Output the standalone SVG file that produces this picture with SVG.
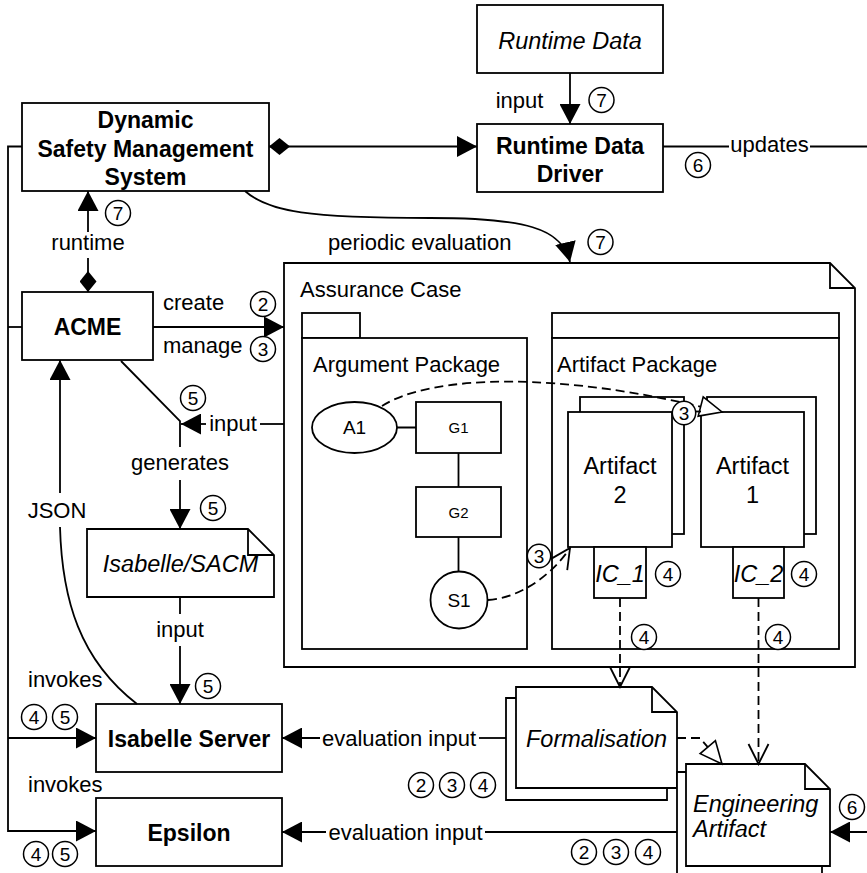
<svg xmlns="http://www.w3.org/2000/svg" width="867" height="873" viewBox="0 0 867 873">
<style>
.n{fill:#fff;stroke:#000;stroke-width:1.8}
.l{fill:none;stroke:#000;stroke-width:1.8}
.d{fill:none;stroke:#000;stroke-width:1.8;stroke-dasharray:9 5}
.b{font-family:"Liberation Sans",Arial,sans-serif;font-weight:bold;font-size:23px;text-anchor:middle}
.i{font-family:"Liberation Sans",Arial,sans-serif;font-style:italic;font-size:23.5px}
.r{font-family:"Liberation Sans",Arial,sans-serif;font-size:23.5px}
.t{font-family:"Liberation Sans",Arial,sans-serif;font-size:22px}
.s{font-family:"Liberation Sans",Arial,sans-serif;text-anchor:middle}
.m{text-anchor:middle}
.c{fill:#fff;stroke:#000;stroke-width:1.5}
.k{font-family:"Liberation Sans",Arial,sans-serif;font-size:19px;text-anchor:middle}
</style>
<defs>
<marker id="arr" viewBox="0 0 20 21" refX="20" refY="10.5" markerWidth="20" markerHeight="21" markerUnits="userSpaceOnUse" orient="auto"><path d="M0,0 L20,10.5 L0,21 z" fill="#000"/></marker>
<marker id="dia" viewBox="0 0 21 17" refX="0" refY="8.5" markerWidth="21" markerHeight="17" markerUnits="userSpaceOnUse" orient="auto"><path d="M0,8.5 L10.5,0 L21,8.5 L10.5,17 z" fill="#000"/></marker>
<marker id="vee" viewBox="-2 -2 24 24" refX="20" refY="10" markerWidth="24" markerHeight="24" markerUnits="userSpaceOnUse" orient="auto"><path d="M0,0 L20,10 L0,20" fill="none" stroke="#000" stroke-width="1.8"/></marker>
<marker id="tri" viewBox="-2 -2 26 24" refX="22" refY="10" markerWidth="26" markerHeight="24" markerUnits="userSpaceOnUse" orient="auto"><path d="M0,0 L22,10 L0,20 z" fill="#fff" stroke="#000" stroke-width="1.6"/></marker>
</defs>
<rect x="0" y="0" width="867" height="873" fill="#fff"/>

<g id="assurance-case">
<path class="n" d="M284,263 H830 L855,288 V667 H284 Z"/>
<path class="l" d="M830,263 V288 H855"/>
<text class="t" x="300" y="297">Assurance Case</text>
</g>

<g id="argument-package">
<rect class="n" x="302" y="313" width="58" height="25"/>
<rect class="n" x="302" y="338" width="225" height="311"/>
<text class="t" x="313" y="372">Argument Package</text>
</g>

<g id="artifact-package">
<rect class="n" x="552" y="313" width="287" height="25"/>
<rect class="n" x="552" y="338" width="287" height="311"/>
<text class="t" x="557" y="372">Artifact Package</text>
</g>

<g id="A1">
<ellipse class="n" cx="354.5" cy="427.5" rx="42.5" ry="25.5"/>
<text class="s" x="354.5" y="434" font-size="19">A1</text>
</g>
<g id="G1">
<rect class="n" x="416" y="402" width="85" height="51"/>
<text class="s" x="458.5" y="433" font-size="15">G1</text>
</g>
<g id="G2">
<rect class="n" x="416" y="487" width="85" height="50"/>
<text class="s" x="458.5" y="517.5" font-size="15">G2</text>
</g>
<g id="S1">
<circle class="n" cx="459" cy="600" r="28.5"/>
<text class="s" x="459" y="607" font-size="19">S1</text>
</g>

<g id="artifact2">
<rect class="n" x="580" y="397" width="104" height="137"/>
<rect class="n" x="568" y="412" width="104" height="135"/>
<text class="r m" x="620" y="474">Artifact</text>
<text class="r m" x="620" y="503">2</text>
</g>
<g id="artifact1">
<rect class="n" x="707" y="397" width="109" height="137"/>
<rect class="n" x="701" y="412" width="103" height="135"/>
<text class="r m" x="752.5" y="474">Artifact</text>
<text class="r m" x="752.5" y="503">1</text>
</g>
<g id="IC_1">
<rect class="n" x="594" y="547" width="52" height="51"/>
<text class="i m" x="620" y="582" font-size="20">IC_1</text>
</g>
<g id="IC_2">
<rect class="n" x="733" y="547" width="51" height="51"/>
<text class="i m" x="758.5" y="582" font-size="20">IC_2</text>
</g>

<g id="dsms">
<rect class="n" x="22" y="103" width="247" height="88"/>
<text class="b" x="145.5" y="128">Dynamic</text>
<text class="b" x="145.5" y="157">Safety Management</text>
<text class="b" x="145.5" y="185">System</text>
</g>

<g id="runtime-data">
<rect class="n" x="477" y="5" width="186" height="68"/>
<text class="i m" x="570" y="49">Runtime Data</text>
</g>

<g id="runtime-data-driver">
<rect class="n" x="477" y="124" width="186" height="68"/>
<text class="b" x="570" y="154">Runtime Data</text>
<text class="b" x="570" y="182">Driver</text>
</g>

<g id="acme">
<rect class="n" x="22" y="292" width="131" height="68"/>
<text class="b" x="87.5" y="335">ACME</text>
</g>

<g id="isabelle-sacm">
<path class="n" d="M87,529 H248 L274,555 V597 H87 Z"/>
<path class="l" d="M248,529 V555 H274"/>
<text class="i m" x="180.5" y="572">Isabelle/SACM</text>
</g>

<g id="isabelle-server">
<rect class="n" x="96" y="704" width="186" height="68"/>
<text class="b" x="189" y="747">Isabelle Server</text>
</g>

<g id="epsilon">
<rect class="n" x="96" y="798" width="186" height="68"/>
<text class="b" x="189" y="841">Epsilon</text>
</g>

<g id="formalisation">
<path class="n" d="M516,698 H506 V800 H667 V788"/>
<path class="n" d="M516,687 H652 L677,712 V788 H516 Z"/>
<path class="l" d="M652,687 V712 H677"/>
<text class="i m" x="596.5" y="747">Formalisation</text>
</g>

<g id="engineering-artifact">
<path class="n" d="M686,772 H677 V882 H822 V866"/>
<path class="n" d="M686,764 H805 L830,789 V866 H686 Z"/>
<path class="l" d="M805,764 V789 H830"/>
<text class="i" x="693" y="812">Engineering</text>
<text class="i" x="693" y="837">Artifact</text>
</g>

<g id="connectors">
<path class="l" d="M269,146.5 H477" marker-start="url(#dia)" marker-end="url(#arr)"/>
<path class="l" d="M570,73 V124" marker-end="url(#arr)"/>
<text class="t m" x="519.5" y="108">input</text>
<path class="l" d="M663,146.5 H729 M810,146.5 H867"/>
<text class="t m" x="769.5" y="152">updates</text>
<path class="l" d="M245,191 C268,212 310,218 430,218 C525,218 562,228 570,262" marker-end="url(#arr)"/>
<text class="t" x="328" y="250">periodic evaluation</text>
<path class="l" d="M88,292 V258" marker-start="url(#dia)"/>
<path class="l" d="M88,232 V191" marker-end="url(#arr)"/>
<text class="t m" x="88" y="250">runtime</text>
<path class="l" d="M22,146.5 H8 V831 H96" marker-end="url(#arr)"/>
<path class="l" d="M8,327 H22"/>
<path class="l" d="M8,738 H96" marker-end="url(#arr)"/>
<text class="t" x="28" y="687">invokes</text>
<text class="t" x="28" y="792">invokes</text>
<path class="l" d="M153,327 H284" marker-end="url(#arr)"/>
<text class="t" x="163" y="310">create</text>
<text class="t" x="163" y="353">manage</text>
<path class="l" d="M121,361 L180,421 V447"/>
<path class="l" d="M180,480 V529" marker-end="url(#arr)"/>
<text class="t m" x="180" y="470">generates</text>
<path class="l" d="M284,424 H260"/>
<path class="l" d="M206,424 H181" marker-end="url(#arr)"/>
<text class="t m" x="233" y="431">input</text>
<path class="l" d="M60,493 V360" marker-end="url(#arr)"/>
<path class="l" d="M60,527 C62,600 80,660 137,704"/>
<text class="t m" x="57" y="518">JSON</text>
<path class="l" d="M180,597 V614"/>
<path class="l" d="M180,646 V704" marker-end="url(#arr)"/>
<text class="t m" x="180" y="637">input</text>
<path class="l" d="M320,738 H282" marker-end="url(#arr)"/>
<path class="l" d="M506,738 H479"/>
<text class="t m" x="399" y="746">evaluation input</text>
<path class="l" d="M326,832 H282" marker-end="url(#arr)"/>
<path class="l" d="M677,832 H485"/>
<text class="t m" x="405.5" y="840">evaluation input</text>
<path class="l" d="M867,832 H830" marker-end="url(#arr)"/>
<path class="l" d="M397,427.5 H416 M458.5,453 V487 M458.5,537 V571.5"/>
<path class="d" d="M382,406 C430,375 560,370 722,412" marker-end="url(#tri)"/>
<path class="d" d="M488,600 C520,598 552,575 570,548" marker-end="url(#vee)"/>
<path class="l" d="M696,411.5 H701"/>
<path class="d" d="M620,598 V687" marker-end="url(#vee)"/>
<path class="d" d="M758.5,598 V764" marker-end="url(#vee)"/>
<path class="d" d="M677,738 H700 L722,764" marker-end="url(#tri)"/>
</g>

<g id="step-markers">
<circle class="c" cx="118" cy="213" r="12.5"/><text class="k" x="118" y="220">7</text>
<circle class="c" cx="601.5" cy="100" r="12.5"/><text class="k" x="601.5" y="107">7</text>
<circle class="c" cx="698" cy="165" r="12.5"/><text class="k" x="698" y="172">6</text>
<circle class="c" cx="600.5" cy="242" r="12.5"/><text class="k" x="600.5" y="249">7</text>
<circle class="c" cx="263" cy="304" r="12.5"/><text class="k" x="263" y="311">2</text>
<circle class="c" cx="263" cy="349" r="12.5"/><text class="k" x="263" y="356">3</text>
<circle class="c" cx="193" cy="398" r="12.5"/><text class="k" x="193" y="405">5</text>
<circle class="c" cx="213" cy="508" r="12.5"/><text class="k" x="213" y="515">5</text>
<circle class="c" cx="208" cy="686" r="12.5"/><text class="k" x="208" y="693">5</text>
<circle class="c" cx="34" cy="717" r="12.5"/><text class="k" x="34" y="724">4</text>
<circle class="c" cx="65" cy="717" r="12.5"/><text class="k" x="65" y="724">5</text>
<circle class="c" cx="36" cy="854" r="12.5"/><text class="k" x="36" y="861">4</text>
<circle class="c" cx="65" cy="854" r="12.5"/><text class="k" x="65" y="861">5</text>
<circle class="c" cx="421" cy="785" r="12.5"/><text class="k" x="421" y="792">2</text>
<circle class="c" cx="452" cy="785" r="12.5"/><text class="k" x="452" y="792">3</text>
<circle class="c" cx="483" cy="785" r="12.5"/><text class="k" x="483" y="792">4</text>
<circle class="c" cx="584" cy="852" r="12.5"/><text class="k" x="584" y="859">2</text>
<circle class="c" cx="616" cy="852" r="12.5"/><text class="k" x="616" y="859">3</text>
<circle class="c" cx="648" cy="852" r="12.5"/><text class="k" x="648" y="859">4</text>
<circle class="c" cx="684" cy="413" r="11.7"/><text class="k" x="684" y="420">3</text>
<circle class="c" cx="539" cy="556" r="11.7"/><text class="k" x="539" y="563">3</text>
<circle class="c" cx="668" cy="574" r="12.5"/><text class="k" x="668" y="581">4</text>
<circle class="c" cx="804" cy="574" r="12.5"/><text class="k" x="804" y="581">4</text>
<circle class="c" cx="644" cy="637" r="12.5"/><text class="k" x="644" y="644">4</text>
<circle class="c" cx="778" cy="637" r="12.5"/><text class="k" x="778" y="644">4</text>
<circle class="c" cx="852" cy="807" r="12.5"/><text class="k" x="852" y="814">6</text>
</g>
</svg>
